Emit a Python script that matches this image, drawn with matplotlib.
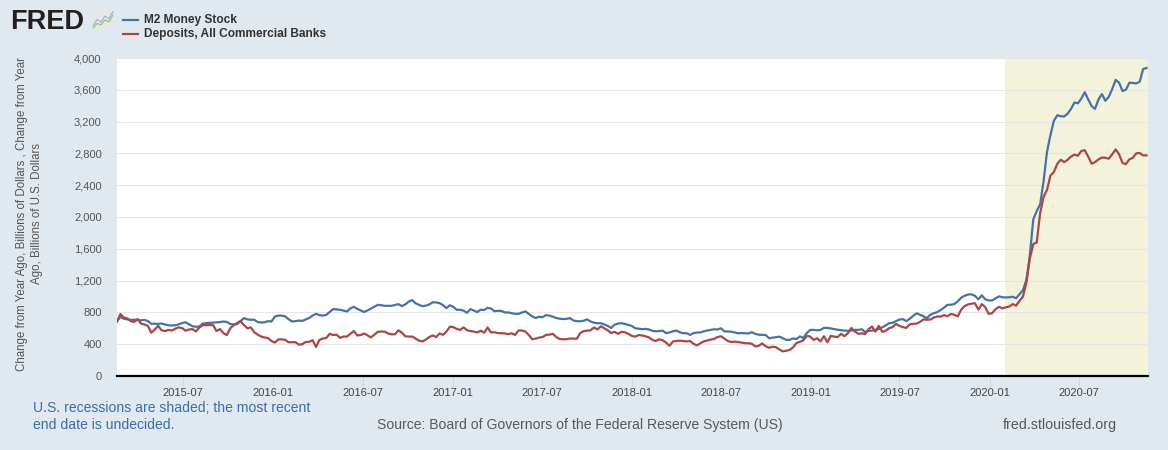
import matplotlib
matplotlib.use("Agg")
import matplotlib.pyplot as plt
import matplotlib.dates as mdates
from matplotlib.ticker import FuncFormatter
import pandas as pd

plt.rcParams['font.family'] = ['Liberation Sans', 'DejaVu Sans']

# ---------------- data ----------------
start_date = "2015-02-16"
n_weeks = 301
series_names = ["M2 Money Stock", "Deposits, All Commercial Banks"]

m2_change = [
    690, 745, 720, 712, 705, 708, 706, 700, 706, 690,
    656, 658, 655, 660, 648, 638, 635, 638, 650, 666,
    676, 650, 625, 620, 622, 660, 665, 668, 670, 675,
    678, 685, 680, 655, 648, 652, 690, 728, 712, 707,
    708, 678, 673, 675, 690, 685, 748, 760, 760, 750,
    715, 685, 690, 697, 693, 712, 730, 760, 782, 765,
    760, 770, 805, 842, 838, 833, 822, 812, 850, 870,
    845, 825, 805, 825, 848, 870, 895, 890, 883, 883,
    883, 893, 904, 880, 900, 935, 955, 915, 895, 878,
    885, 900, 928, 925, 917, 890, 854, 890, 870, 833,
    833, 822, 795, 842, 822, 805, 835, 830, 858, 848,
    815, 820, 818, 800, 800, 790, 782, 782, 798, 812,
    780, 750, 730, 745, 740, 765, 760, 745, 730, 720,
    716, 719, 728, 698, 690, 688, 695, 713, 685, 670,
    664, 664, 648, 630, 605, 645, 660, 664, 655, 643,
    630, 601, 595, 589, 592, 585, 568, 562, 565, 570,
    540, 548, 562, 572, 550, 538, 538, 517, 540, 547,
    548, 562, 572, 580, 588, 585, 600, 562, 559, 557,
    548, 537, 540, 538, 535, 551, 530, 520, 517, 515,
    475, 482, 490, 495, 475, 455, 455, 472, 465, 498,
    478, 540, 580, 580, 575, 580, 605, 605, 598, 589,
    582, 575, 572, 568, 572, 580, 580, 588, 555, 568,
    570, 578, 593, 612, 636, 664, 670, 690, 710, 715,
    690, 720, 757, 788, 770, 752, 728, 769, 790, 803,
    830, 860, 896, 896, 905, 940, 985, 1010, 1025, 1028,
    1008, 965, 1015, 965, 950, 950, 976, 1002, 990, 988,
    990, 997, 978, 1030, 1080, 1211, 1520, 1970, 2075, 2160,
    2450, 2820, 3030, 3210, 3280, 3268, 3264, 3300, 3360, 3440,
    3430, 3490, 3570, 3480, 3395, 3360, 3480, 3546, 3462, 3512,
    3609, 3725, 3690, 3585, 3601, 3690, 3685, 3681, 3700, 3860, 3875,
]

deposits_change = [
    685, 780, 735, 725, 690, 680, 715, 660, 648, 630,
    545, 585, 630, 575, 565, 580, 572, 595, 612, 602,
    570, 585, 590, 560, 610, 640, 640, 642, 640, 565,
    590, 540, 515, 600, 640, 665, 690, 640, 600, 612,
    550, 520, 496, 485, 476, 440, 420, 460, 462, 455,
    425, 425, 425, 395, 400, 428, 430, 450, 365, 455,
    470, 480, 530, 515, 520, 480, 496, 496, 530, 565,
    510, 515, 535, 512, 485, 520, 555, 559, 558, 535,
    525, 525, 575, 545, 500, 496, 496, 470, 445, 435,
    458, 490, 510, 490, 535, 518, 559, 620, 615, 592,
    580, 612, 575, 565, 558, 548, 570, 545, 610, 548,
    550, 540, 538, 536, 525, 538, 517, 572, 572, 560,
    515, 462, 470, 483, 490, 517, 520, 530, 490, 465,
    462, 462, 472, 470, 470, 540, 565, 570, 575, 610,
    585, 625, 600, 575, 540, 555, 530, 555, 550, 530,
    505, 495, 515, 510, 500, 485, 455, 440, 462, 450,
    420, 380, 435, 440, 445, 440, 435, 440, 405, 385,
    412, 435, 447, 458, 466, 490, 500, 470, 440, 428,
    432, 428, 420, 412, 412, 405, 372, 380, 410, 375,
    355, 368, 362, 335, 310, 318, 328, 360, 415, 430,
    450, 505, 496, 454, 475, 435, 500, 425, 505, 495,
    490, 530, 500, 540, 605, 560, 530, 538, 525, 589,
    622, 559, 630, 555, 570, 601, 615, 655, 630, 615,
    605, 650, 656, 660, 680, 712, 708, 710, 735, 748,
    748, 765, 752, 780, 770, 750, 835, 880, 900, 910,
    915, 835, 905, 866, 782, 790, 841, 870, 850, 865,
    873, 905, 885, 945, 1000, 1180, 1480, 1660, 1680, 2050,
    2255, 2340, 2520, 2565, 2670, 2720, 2690, 2720, 2760, 2785,
    2770, 2830, 2840, 2760, 2670, 2690, 2725, 2748, 2745, 2734,
    2789, 2850, 2790, 2680, 2665, 2725, 2745, 2800, 2805, 2775, 2775,
]

recession_start = "2020-02-01"
y_ticks = [0, 400, 800, 1200, 1600, 2000, 2400, 2800, 3200, 3600, 4000]

dates = pd.date_range(start_date, periods=n_weeks, freq="7D")

# ---------------- figure ----------------
W, H = 1168, 450
fig = plt.figure(figsize=(W / 100, H / 100), dpi=100, facecolor="#e1e9f0")
ax = fig.add_axes([117 / W, (H - 376) / H, (1148 - 117) / W, (376 - 58) / H])
ax.set_facecolor("white")

blue = "#4572a7"
red = "#aa4643"

ax.axvspan(pd.Timestamp(recession_start), dates[-1] + pd.Timedelta(days=3),
           color="#f3f3dc", zorder=0, lw=0)
ax.plot(dates, m2_change, color=blue, lw=1.6, zorder=3, solid_joinstyle="round")
ax.plot(dates, deposits_change, color=red, lw=1.6, zorder=3, solid_joinstyle="round")

ax.set_xlim(dates[0], dates[-1] + pd.Timedelta(days=3))
ax.set_ylim(0, 4000)
ax.set_yticks(y_ticks)
ax.yaxis.set_major_formatter(FuncFormatter(lambda v, p: f"{int(v):,}"))
ax.grid(axis="y", color="#e6e6e6", lw=0.8, zorder=1)
ax.set_axisbelow(True)

ax.xaxis.set_major_locator(mdates.MonthLocator(bymonth=[1, 7]))
ax.xaxis.set_major_formatter(mdates.DateFormatter("%Y-%m"))

for s in ["top", "right", "left"]:
    ax.spines[s].set_visible(False)
ax.spines["bottom"].set_color("black")
ax.spines["bottom"].set_linewidth(1.6)
ax.spines["bottom"].set_zorder(5)

ax.tick_params(axis="x", length=7.2, width=0.8, color="#ccd6eb", pad=1.2,
               labelsize=8, labelcolor="#444444")
ax.tick_params(axis="y", length=0, pad=11, labelsize=8, labelcolor="#555555")

# y label
fig.text(29.5 / W, 1 - 214 / H,
         "Change from Year Ago, Billions of Dollars , Change from Year\nAgo, Billions of U.S. Dollars",
         rotation=90, ha="center", va="center", multialignment="center",
         fontsize=8.3, color="#555555", linespacing=1.3)

# FRED logo
fig.text(10 / W, 1 - 22 / H, "FRED", fontsize=19.5, fontweight="heavy",
         color="#231f20", ha="left", va="center")
icon = fig.add_axes([92 / W, 1 - 30 / H, 22 / W, 20 / H])
icon.set_facecolor("#e4e8ea")
icon_x = [0, 1, 2, 3, 4, 5]
icon_a = [1.0, 2.4, 1.8, 3.2, 2.6, 4.2]
icon_b = [0.5, 1.5, 1.2, 2.3, 1.9, 3.4]
icon.plot(icon_x, icon_a, color="#8fb3d6", lw=0.8)
icon.plot(icon_x, icon_b, color="#8dc06a", lw=0.8)
icon.set_xlim(-0.3, 5.3)
icon.set_ylim(0, 4.6)
icon.set_xticks([])
icon.set_yticks([])
for s in icon.spines.values():
    s.set_visible(False)

# legend
legend_y = [19.5, 33.5]
for name, col, ly in zip(series_names, [blue, red], legend_y):
    fig.add_artist(plt.Line2D([123 / W, 138 / W], [1 - ly / H, 1 - ly / H],
                              color=col, lw=1.6))
    fig.text(144 / W, 1 - ly / H, name, fontsize=8.6, fontweight="bold",
             color="#333333", ha="left", va="center")

# footer
fig.text(33 / W, 1 - 416.5 / H,
         "U.S. recessions are shaded; the most recent\nend date is undecided.",
         fontsize=10.1, color="#3b6db0", ha="left", va="center", linespacing=1.2)
fig.text(377 / W, 1 - 425 / H,
         "Source: Board of Governors of the Federal Reserve System (US)",
         fontsize=10.1, color="#595959", ha="left", va="center")
fig.text(1003 / W, 1 - 425 / H, "fred.stlouisfed.org",
         fontsize=10.3, color="#595959", ha="left", va="center")

fig.savefig("out.png", dpi=100, facecolor=fig.get_facecolor())
